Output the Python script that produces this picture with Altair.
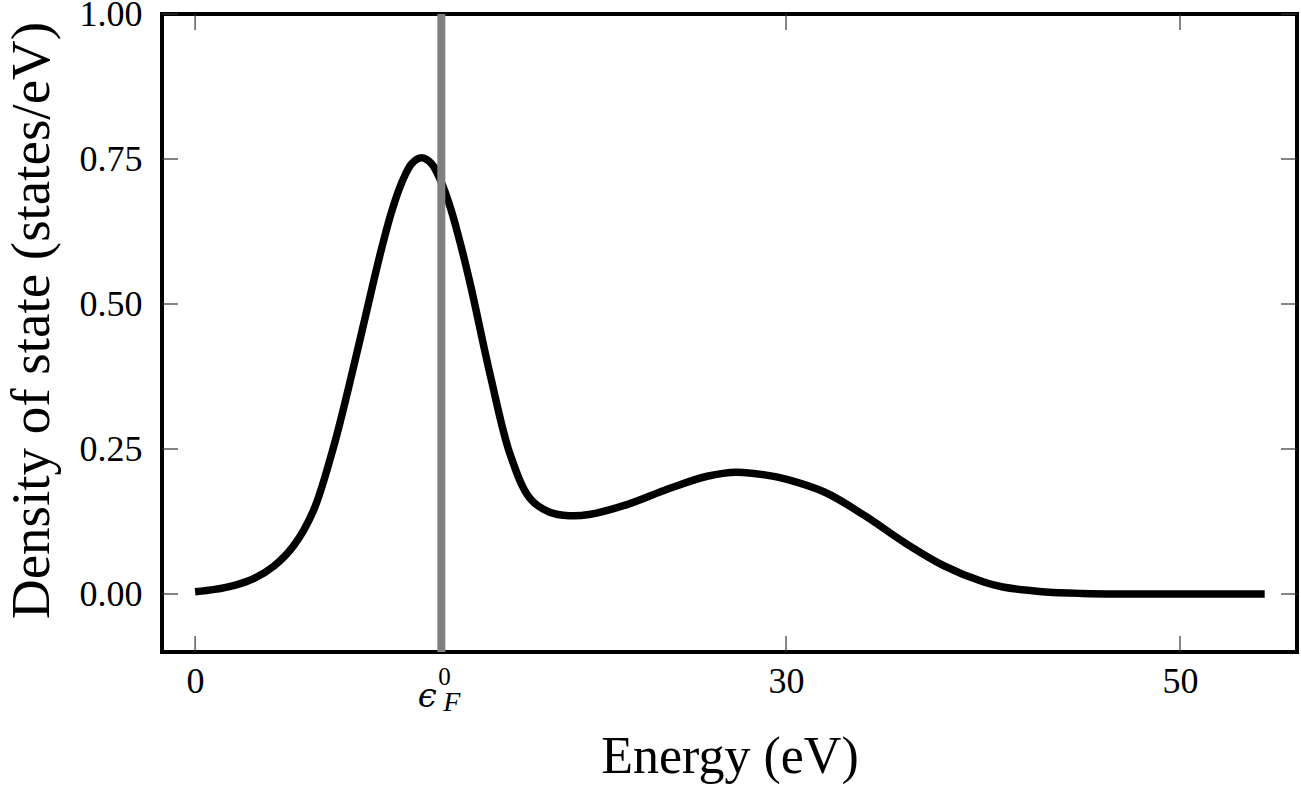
import altair as alt
import pandas as pd

# Curve
energy = [0, 1, 2, 3, 4, 5, 6, 7, 8, 9, 9.5, 10, 10.5, 11, 11.5, 12, 12.5, 13, 13.5,
          14, 15, 16, 17, 18, 19, 20, 22, 24, 26, 27.5, 29, 30, 32, 34, 36, 38, 40,
          41, 43, 45, 48, 54.3]
dos = [0.004, 0.008, 0.015, 0.027, 0.048, 0.083, 0.143, 0.25, 0.385, 0.53, 0.6,
       0.662, 0.71, 0.742, 0.752, 0.742, 0.71, 0.662, 0.6,
       0.53, 0.375, 0.24, 0.165, 0.141, 0.135, 0.137, 0.155, 0.181, 0.203, 0.21,
       0.205, 0.198, 0.175, 0.135, 0.089, 0.049, 0.021,
       0.012, 0.004, 0.001, 0.0, 0.0]

fermi_energy = [12.5]
x_tick_values = [0, 12.5, 30, 50]
x_label_values = [0, 30, 50]
y_tick_values = [0, 0.25, 0.5, 0.75, 1.0]

W, H = 1135, 638
FONT = "Liberation Serif"

curve_df = pd.DataFrame({"energy": energy, "dos": dos})
fermi_df = pd.DataFrame({"energy": fermi_energy})
xt_df = pd.DataFrame({"energy": x_tick_values})
yt_df = pd.DataFrame({"dos": y_tick_values})

xscale = alt.Scale(domain=[-1.68, 55.94], nice=False, zero=False)
yscale = alt.Scale(domain=[-0.1, 1.0], nice=False, zero=False)

x_axis = alt.Axis(values=x_label_values, title="Energy (eV)", labelFontSize=36,
                  labelPadding=12, titleFontSize=52, titleY=120,
                  titleBaseline="alphabetic")
y_axis = alt.Axis(values=y_tick_values, format=".2f",
                  title="Density of state (states/eV)", labelFontSize=36,
                  labelPadding=20, titleFontSize=55, titleX=-114, titleY=306,
                  titleAngle=-90, titleAlign="center", titleBaseline="alphabetic")

X = alt.X("energy:Q", scale=xscale, axis=x_axis)
Y = alt.Y("dos:Q", scale=yscale, axis=y_axis)

tick_color = "#333333"
tick_w = 1.2
TL = 16

bottom_ticks = alt.Chart(xt_df).mark_rule(color=tick_color, strokeWidth=tick_w).encode(
    x=X, y=alt.value(H), y2=alt.value(H - TL))
top_ticks = alt.Chart(xt_df).mark_rule(color=tick_color, strokeWidth=tick_w).encode(
    x=X, y=alt.value(0), y2=alt.value(TL))
left_ticks = alt.Chart(yt_df).mark_rule(color=tick_color, strokeWidth=tick_w).encode(
    y=Y, x=alt.value(0), x2=alt.value(TL))
right_ticks = alt.Chart(yt_df).mark_rule(color=tick_color, strokeWidth=tick_w).encode(
    y=Y, x=alt.value(W), x2=alt.value(W - TL))

curve = alt.Chart(curve_df).mark_line(
    color="black", strokeWidth=7.5, interpolate="catmull-rom"
).encode(x=X, y=Y)

fermi_rule = alt.Chart(fermi_df).mark_rule(color="#808080", strokeWidth=8).encode(
    x=X, y=alt.value(0), y2=alt.value(H))

eps = alt.Chart(fermi_df).mark_text(
    font="DejaVu Serif", fontSize=34, fontStyle="italic", align="center",
    baseline="alphabetic", dx=-14, color="black"
).encode(x=X, y=alt.value(693), text=alt.value("ϵ"))

sub_f = alt.Chart(fermi_df).mark_text(
    font=FONT, fontSize=28, fontStyle="italic", align="left",
    baseline="alphabetic", dx=2, color="black"
).encode(x=X, y=alt.value(697), text=alt.value("F"))

sup_0 = alt.Chart(fermi_df).mark_text(
    font=FONT, fontSize=25, align="left", baseline="alphabetic", dx=-3, color="black"
).encode(x=X, y=alt.value(671), text=alt.value("0"))

chart = alt.layer(
    bottom_ticks, top_ticks, left_ticks, right_ticks, curve, fermi_rule, eps, sub_f, sup_0
).properties(
    width=W, height=H,
    autosize=alt.AutoSizeParams(type="none"),
    padding={"left": 162, "top": 14, "right": 4, "bottom": 135},
    background="white",
).configure_view(
    stroke="black", strokeWidth=4
).configure_axis(
    grid=False, domain=False, ticks=False, labelFont=FONT, titleFont=FONT,
    labelColor="black", titleColor="black", titleFontWeight="normal"
)

chart.save("out.html", embed_options={"renderer": "svg", "actions": False})
